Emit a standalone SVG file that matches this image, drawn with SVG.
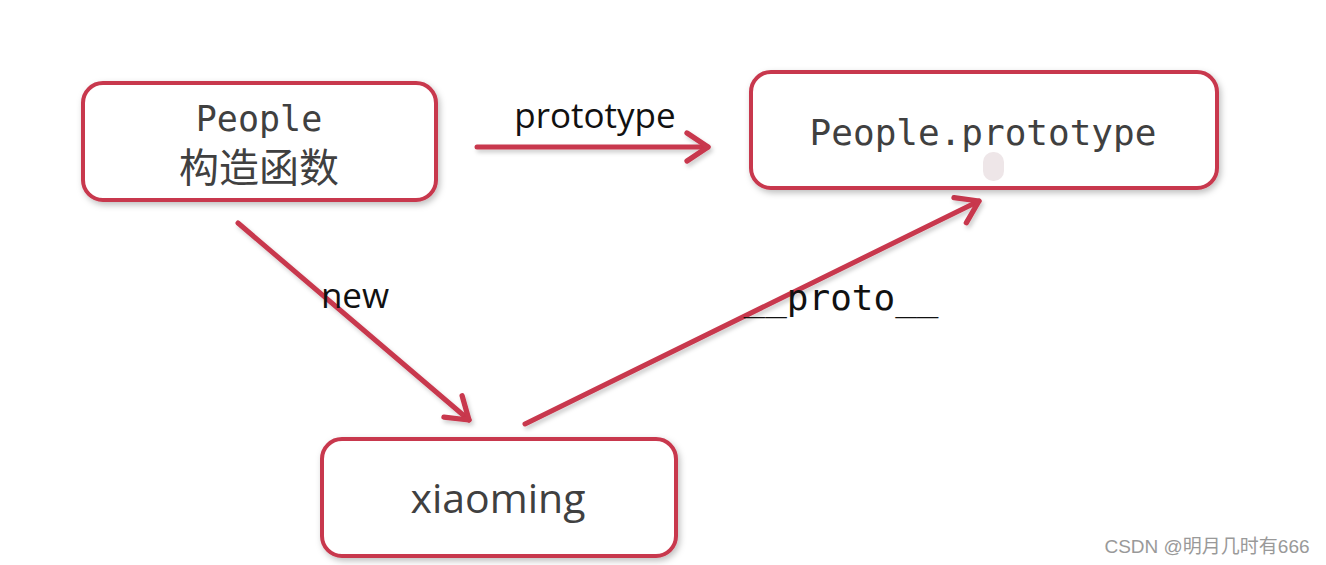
<svg xmlns="http://www.w3.org/2000/svg" width="1326" height="565" viewBox="0 0 1326 565">
<style>
.box{fill:#fff;stroke:#c8374d;stroke-width:4;filter:url(#sh)}
.mono{font-family:"DejaVu Sans Mono",monospace;fill:#404040;font-size:35px}
.lbl{font-family:"Open Sans","Liberation Sans",sans-serif;fill:#111;font-size:35px}
.conn{stroke:#c8374d;stroke-width:5;fill:none;stroke-linecap:round;filter:url(#sh2)}
</style>
<defs>
<filter id="sh" x="-10%" y="-20%" width="120%" height="140%">
<feDropShadow dx="2" dy="3" stdDeviation="3" flood-color="#000" flood-opacity="0.25"/>
</filter>
<filter id="sh2" filterUnits="userSpaceOnUse" x="0" y="0" width="1326" height="565">
<feDropShadow dx="2" dy="3" stdDeviation="2" flood-color="#000" flood-opacity="0.2"/>
</filter>
<marker id="arr" viewBox="0 0 20 20" refX="16" refY="10" markerWidth="7" markerHeight="7" markerUnits="strokeWidth" orient="auto">
<path d="M4 2 L16 10 L4 18" fill="none" stroke="#c8374d" stroke-width="3" stroke-linecap="round" stroke-linejoin="round"/>
</marker>
</defs>
<rect width="1326" height="565" fill="#fff"/>
<g id="connectors">
<path class="conn" d="M477 147 L708 147" marker-end="url(#arr)"/>
<path class="conn" d="M238 223 L469 420" marker-end="url(#arr)"/>
<path class="conn" d="M525 424 L979 201" marker-end="url(#arr)"/>
<text class="lbl" x="595" y="128" text-anchor="middle">prototype</text>
<text class="lbl" x="355" y="308" text-anchor="middle">new</text>
<text class="mono" x="841" y="310" text-anchor="middle" style="fill:#111;font-size:36px">__proto__</text>
</g>
<g id="node-people">
<rect class="box" x="83" y="83" width="353" height="117" rx="20"/>
<text class="mono" x="259" y="131" text-anchor="middle">People</text>
<text x="259" y="182" text-anchor="middle" font-family="'Noto Sans CJK SC',sans-serif" font-size="40" fill="#404040">构造函数</text>
</g>
<g id="node-prototype">
<rect class="box" x="751" y="72" width="466" height="116" rx="20"/>
<text class="mono" x="983" y="145" text-anchor="middle" style="font-size:36px">People.prototype</text>
<rect x="983" y="152" width="21" height="29" rx="10" fill="#eee6e8"/>
</g>
<g id="node-xiaoming">
<rect class="box" x="322" y="439" width="354" height="117" rx="20"/>
<text x="498" y="513" text-anchor="middle" font-family="'Open Sans','Liberation Sans',sans-serif" font-size="41" fill="#404040">xiaoming</text>
</g>
<text x="1207" y="553" text-anchor="middle" font-family="'Liberation Sans','Noto Sans CJK SC',sans-serif" font-size="19" fill="#999">CSDN @明月几时有666</text>
</svg>
